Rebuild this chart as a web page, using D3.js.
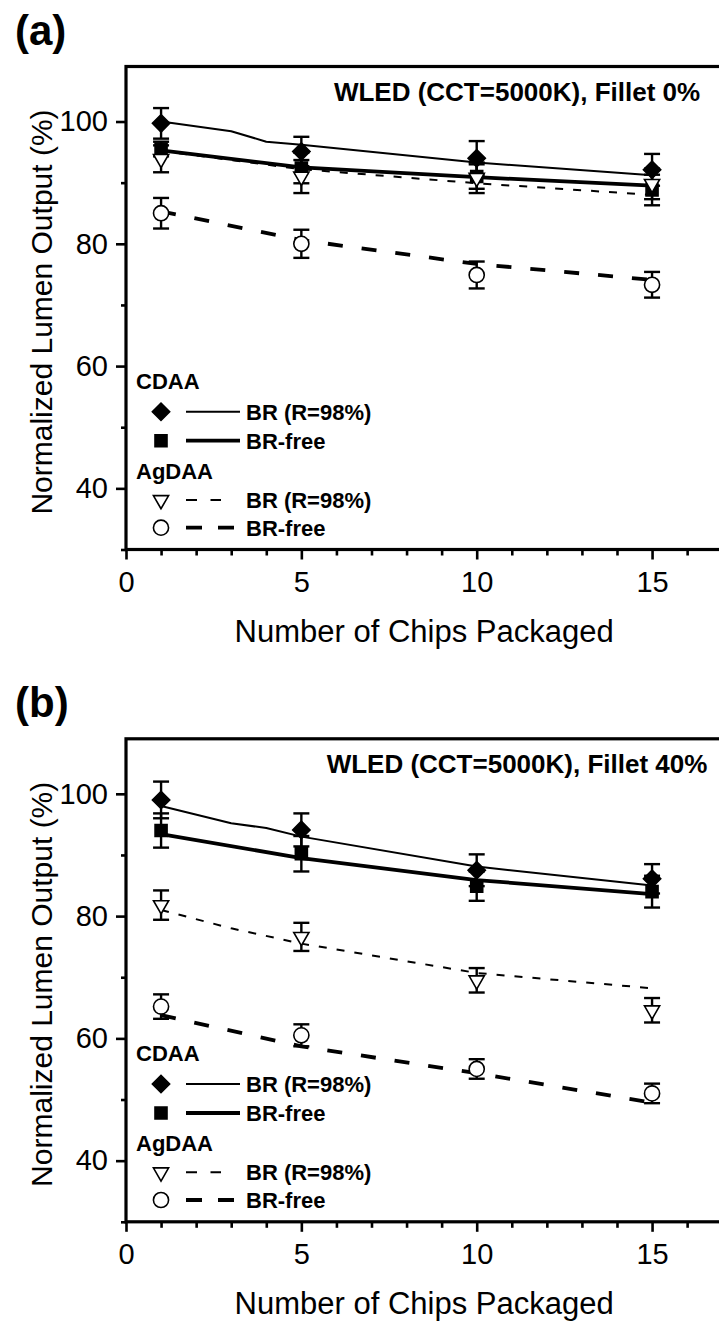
<!DOCTYPE html>
<html>
<head>
<meta charset="utf-8">
<script src="https://cdn.jsdelivr.net/npm/d3@7"></script>
<style>
  body { margin: 0; background: #fff; }
  svg { display: block; }
  text { font-family: Arial, "Liberation Sans", sans-serif; fill: #000; }
</style>
</head>
<body>
<svg id="chart" width="719" height="1321"></svg>
<script>
// chip counts where the measurements were taken
const chips = [1, 5, 10, 15];
// x positions of the simulated (fit) curves
const fitChipsBR = [1, 3, 4, 5, 10, 15];
const fitChips = [1, 5, 10, 15];
const fitChipsAgBRb = [1, 3, 5, 10, 15];

const xTickMajor = [0, 5, 10, 15];
const xTickMinor = [1, 2, 3, 4, 6, 7, 8, 9, 11, 12, 13, 14, 16];
const yTickMajor = [40, 60, 80, 100];
const yTickMinor = [30, 50, 70, 90];

// (a) Fillet 0%
const aCdaaBR = [99.7, 95.1, 94.0, 92.1];
const aCdaaBRErr = [2.5, 2.4, 2.8, 2.6];
const aCdaaFree = [95.5, 92.4, 91.0, 88.8];
const aCdaaFreeErr = [1.2, 2.5, 2.0, 2.5];
const aAgBR = [93.9, 91.0, 90.8, 89.8];
const aAgBRErr = [2.2, 2.7, 2.5, 2.5];
const aAgFree = [85.0, 80.0, 74.9, 73.3];
const aAgFreeErr = [2.5, 2.3, 2.2, 2.1];
const aFitCdaaBR = [100.0, 98.4, 96.7, 96.2, 93.3, 91.2];
const aFitCdaaFree = [95.3, 92.5, 90.9, 89.5];
const aFitAgBR = [95.2, 92.2, 89.9, 88.0];
const aFitAgFree = [85.3, 80.6, 76.7, 74.1];

// (b) Fillet 40%
const bCdaaBR = [99.0, 94.1, 87.5, 86.1];
const bCdaaBRErr = [3.0, 2.7, 2.6, 2.4];
const bCdaaFree = [94.0, 90.2, 84.9, 84.0];
const bCdaaFreeErr = [2.8, 2.9, 2.4, 2.6];
const bAgBR = [81.8, 76.6, 69.5, 64.6];
const bAgBRErr = [2.4, 2.3, 2.0, 2.0];
const bAgFree = [65.2, 60.5, 55.0, 51.0];
const bAgFreeErr = [2.0, 1.8, 1.6, 1.6];
const bFitCdaaBR = [98.0, 95.2, 94.4, 93.0, 88.1, 85.0];
const bFitCdaaFree = [93.4, 89.5, 85.9, 83.6];
const bFitAgBR = [81.0, 78.0, 75.5, 70.7, 68.2];
const bFitAgFree = [63.8, 58.7, 54.3, 49.5];

const svg = d3.select("#chart");

const diamond = d3.symbol().type(d3.symbolSquare).size(150);
const square = d3.symbol().type(d3.symbolSquare).size(144);
const triangle = d3.symbol().type(d3.symbolTriangle).size(100);
const circle = d3.symbol().type(d3.symbolCircle).size(180);

const styles = {
  cdaaBR:   { sym: diamond, rot: 45,  fill: "#000", width: 2,   dash: null },
  cdaaFree: { sym: square,  rot: 0,   fill: "#000", width: 3.8, dash: null },
  agBR:     { sym: triangle, rot: 180, fill: "#fff", width: 2,   dash: "8,10" },
  agFree:   { sym: circle,  rot: 0,   fill: "#fff", width: 3.8, dash: "15,19" }
};

function drawPanel(p) {
  const g = svg.append("g").attr("transform", `translate(0,${p.dy})`);

  const x = d3.scaleLinear().domain([0, 17]).range([126, 722.2]);
  const y = d3.scaleLinear().domain([30, 109]).range([549.5, 66.5]);

  // axes
  const axX = g.append("g").attr("transform", `translate(0,${y(30)})`)
    .call(d3.axisBottom(x).tickValues(xTickMajor).tickSize(10).tickPadding(12).tickSizeOuter(0));
  axX.selectAll("text").style("font-size", "29px");
  g.append("g").attr("transform", `translate(0,${y(30)})`)
    .call(d3.axisBottom(x).tickValues(xTickMinor).tickSize(6).tickFormat("").tickSizeOuter(0));

  const axY = g.append("g").attr("transform", `translate(${x(0)},0)`)
    .call(d3.axisLeft(y).tickValues(yTickMajor).tickSize(10).tickPadding(8).tickSizeOuter(0));
  axY.selectAll("text").style("font-size", "29px");
  g.append("g").attr("transform", `translate(${x(0)},0)`)
    .call(d3.axisLeft(y).tickValues(yTickMinor).tickSize(5).tickFormat("").tickSizeOuter(0));

  g.selectAll(".domain").remove();
  g.selectAll(".tick line").attr("stroke", "#000").attr("stroke-width", 2.6);

  // frame
  g.append("rect")
    .attr("x", x(0)).attr("y", y(109))
    .attr("width", x(17) - x(0)).attr("height", y(30) - y(109))
    .attr("fill", "none").attr("stroke", "#000").attr("stroke-width", 3.2);

  // fit curves
  p.series.forEach(s => {
    const st = styles[s.key];
    const pts = s.fitX.map((c, i) => [c, s.fit[i]]);
    g.append("path")
      .datum(pts)
      .attr("fill", "none")
      .attr("stroke", "#000")
      .attr("stroke-width", st.width)
      .attr("stroke-dasharray", st.dash)
      .attr("stroke-linejoin", "round")
      .attr("d", d3.line().x(d => x(d[0])).y(d => y(d[1])));
  });

  // error bars
  p.series.forEach(s => {
    const eb = g.append("g").attr("stroke", "#000").attr("stroke-width", 2.4);
    chips.forEach((c, i) => {
      const cx = x(c), top = y(s.values[i] + s.err[i]), bot = y(s.values[i] - s.err[i]);
      eb.append("line").attr("x1", cx).attr("x2", cx).attr("y1", top).attr("y2", bot);
      eb.append("line").attr("x1", cx - 8).attr("x2", cx + 8).attr("y1", top).attr("y2", top);
      eb.append("line").attr("x1", cx - 8).attr("x2", cx + 8).attr("y1", bot).attr("y2", bot);
    });
  });

  // markers
  p.series.forEach(s => {
    const st = styles[s.key];
    g.selectAll(null)
      .data(chips.map((c, i) => [c, s.values[i]]))
      .enter()
      .append("path")
      .attr("d", st.sym())
      .attr("transform", d => `translate(${x(d[0])},${y(d[1])}) rotate(${st.rot})`)
      .attr("fill", st.fill)
      .attr("stroke", "#000")
      .attr("stroke-width", 1.6);
  });

  // title inside plot
  g.append("text")
    .attr("x", 517).attr("y", 101)
    .attr("text-anchor", "middle")
    .style("font-size", "26px").style("font-weight", "bold")
    .text(p.title);

  // legend
  const leg = g.append("g");
  leg.append("text").attr("x", 136).attr("y", 389)
    .style("font-size", "22px").style("font-weight", "bold").text("CDAA");
  leg.append("text").attr("x", 136).attr("y", 479)
    .style("font-size", "22px").style("font-weight", "bold").text("AgDAA");
  const rows = [
    { key: "cdaaBR", y: 411.7, label: "BR (R=98%)", x2: 240, dash: null },
    { key: "cdaaFree", y: 440.7, label: "BR-free", x2: 240, dash: null },
    { key: "agBR", y: 500, label: "BR (R=98%)", x2: 221, dash: "11,13.5" },
    { key: "agFree", y: 527.7, label: "BR-free", x2: 236, dash: "16,16" }
  ];
  rows.forEach(r => {
    const st = styles[r.key];
    leg.append("path")
      .attr("d", st.sym())
      .attr("transform", `translate(161,${r.y}) rotate(${st.rot})`)
      .attr("fill", st.fill).attr("stroke", "#000").attr("stroke-width", 1.6);
    leg.append("line")
      .attr("x1", 186).attr("x2", r.x2).attr("y1", r.y).attr("y2", r.y)
      .attr("stroke", "#000").attr("stroke-width", st.width)
      .attr("stroke-dasharray", r.dash);
    leg.append("text").attr("x", 246).attr("y", r.y + 8)
      .style("font-size", "22px").style("font-weight", "bold").text(r.label);
  });

  // axis titles
  g.append("text")
    .attr("x", (x(0) + x(17)) / 2).attr("y", 642)
    .attr("text-anchor", "middle")
    .style("font-size", "31px")
    .text("Number of Chips Packaged");
  g.append("text")
    .attr("transform", `translate(52,${(y(30) + y(109)) / 2 + 4}) rotate(-90)`)
    .attr("text-anchor", "middle")
    .style("font-size", "30px")
    .text("Normalized Lumen Output (%)");

  // panel letter
  g.append("text").attr("x", 15).attr("y", 45)
    .style("font-size", "42px").style("font-weight", "bold")
    .text(p.letter);
}

drawPanel({
  dy: 0, letter: "(a)", title: "WLED (CCT=5000K), Fillet 0%",
  series: [
    { key: "cdaaBR", values: aCdaaBR, err: aCdaaBRErr, fitX: fitChipsBR, fit: aFitCdaaBR },
    { key: "cdaaFree", values: aCdaaFree, err: aCdaaFreeErr, fitX: fitChips, fit: aFitCdaaFree },
    { key: "agBR", values: aAgBR, err: aAgBRErr, fitX: fitChips, fit: aFitAgBR },
    { key: "agFree", values: aAgFree, err: aAgFreeErr, fitX: fitChips, fit: aFitAgFree }
  ]
});

drawPanel({
  dy: 672.3, letter: "(b)", title: "WLED (CCT=5000K), Fillet 40%",
  series: [
    { key: "cdaaBR", values: bCdaaBR, err: bCdaaBRErr, fitX: fitChipsBR, fit: bFitCdaaBR },
    { key: "cdaaFree", values: bCdaaFree, err: bCdaaFreeErr, fitX: fitChips, fit: bFitCdaaFree },
    { key: "agBR", values: bAgBR, err: bAgBRErr, fitX: fitChipsAgBRb, fit: bFitAgBR },
    { key: "agFree", values: bAgFree, err: bAgFreeErr, fitX: fitChips, fit: bFitAgFree }
  ]
});
</script>
</body>
</html>
